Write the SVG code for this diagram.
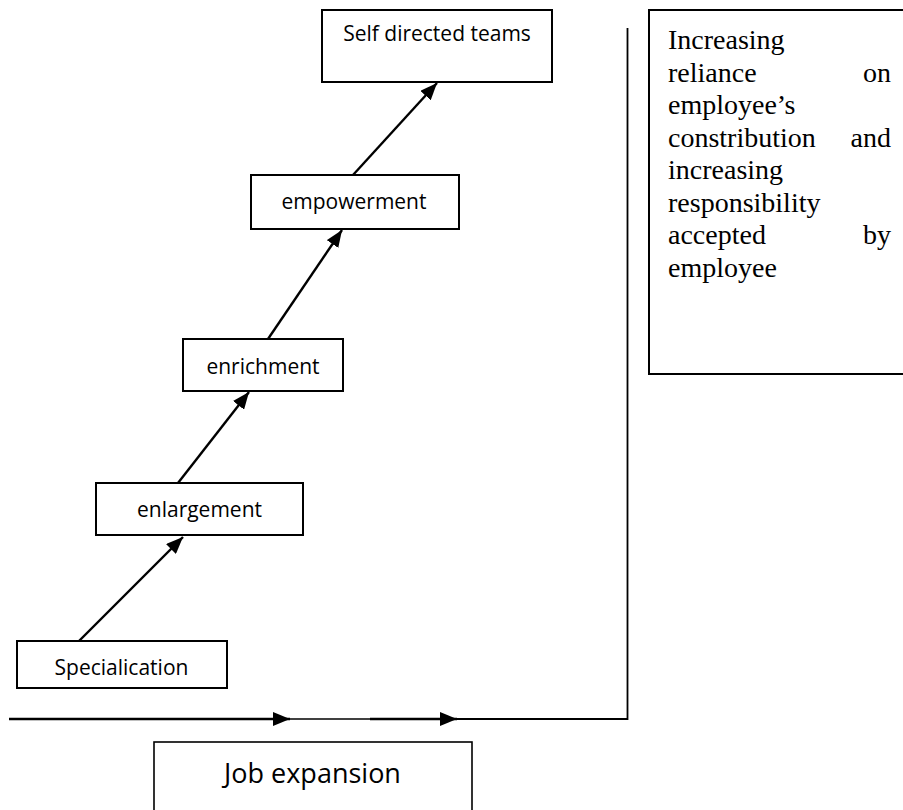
<svg xmlns="http://www.w3.org/2000/svg" width="903" height="810" viewBox="0 0 903 810">
  <style>
    .box { fill: #ffffff; stroke: #000000; stroke-width: 2; }
    .lbl { font-family: "Open Sans", "Liberation Sans", sans-serif; font-size: 21px; fill: #000000; }
    .big { font-family: "Open Sans", "Liberation Sans", sans-serif; font-size: 27px; fill: #000000; }
    .serif { font-family: "Liberation Serif", "Times New Roman", serif; font-size: 28px; fill: #000000; }
    .arrow { stroke: #000000; stroke-width: 2.4; fill: none; marker-end: url(#head); }
    .thin { stroke: #000000; stroke-width: 1.6; fill: none; }
  </style>
  <defs>
    <marker id="head" viewBox="0 0 17 14" refX="17" refY="7" markerWidth="17" markerHeight="14" markerUnits="userSpaceOnUse" orient="auto">
      <path d="M0,0 L17,7 L0,14 Z" fill="#000000"/>
    </marker>
  </defs>
  <rect width="903" height="810" fill="#ffffff"/>

  <!-- connectors -->
  <g id="connectors">
    <line class="arrow" x1="79" y1="641" x2="183" y2="537"/>
    <line class="arrow" x1="178" y1="483" x2="249" y2="392"/>
    <line class="arrow" x1="268" y1="339" x2="342" y2="230"/>
    <line class="arrow" x1="353" y1="175" x2="437" y2="83"/>
    <line class="thin" x1="285" y1="719" x2="375" y2="719"/>
    <line class="arrow" x1="9" y1="719" x2="290" y2="719"/>
    <line class="arrow" x1="370" y1="719" x2="457" y2="719"/>
    <polyline class="thin" points="452,719 627.5,719 627.5,28" style="stroke-width:1.8"/>
  </g>

  <g id="self-directed-teams">
    <rect class="box" x="322" y="10" width="230" height="72"/>
    <text class="lbl" x="437" y="41" text-anchor="middle">Self directed teams</text>
  </g>

  <g id="empowerment">
    <rect class="box" x="251" y="175" width="208" height="54"/>
    <text class="lbl" x="354" y="209" text-anchor="middle">empowerment</text>
  </g>

  <g id="enrichment">
    <rect class="box" x="183" y="339" width="160" height="52"/>
    <text class="lbl" x="263" y="374" text-anchor="middle">enrichment</text>
  </g>

  <g id="enlargement">
    <rect class="box" x="96" y="483" width="207" height="52"/>
    <text class="lbl" x="199.5" y="517" text-anchor="middle">enlargement</text>
  </g>

  <g id="specialication">
    <rect class="box" x="17" y="641" width="210" height="47"/>
    <text class="lbl" x="121.5" y="675" text-anchor="middle">Specialication</text>
  </g>

  <g id="job-expansion">
    <rect class="box" x="154" y="742" width="318" height="90" style="stroke-width:1.6"/>
    <text class="big" x="312.5" y="783" text-anchor="middle">Job expansion</text>
  </g>

  <g id="note">
    <rect class="box" x="649" y="10" width="280" height="364"/>
    <text class="serif" x="668" y="49">Increasing</text>
    <text class="serif" x="668" y="81.5">reliance</text>
    <text class="serif" x="891" y="81.5" text-anchor="end">on</text>
    <text class="serif" x="668" y="114">employee’s</text>
    <text class="serif" x="668" y="146.5">constribution</text>
    <text class="serif" x="891" y="146.5" text-anchor="end">and</text>
    <text class="serif" x="668" y="179">increasing</text>
    <text class="serif" x="668" y="211.5">responsibility</text>
    <text class="serif" x="668" y="244">accepted</text>
    <text class="serif" x="891" y="244" text-anchor="end">by</text>
    <text class="serif" x="668" y="276.5">employee</text>
  </g>
</svg>
